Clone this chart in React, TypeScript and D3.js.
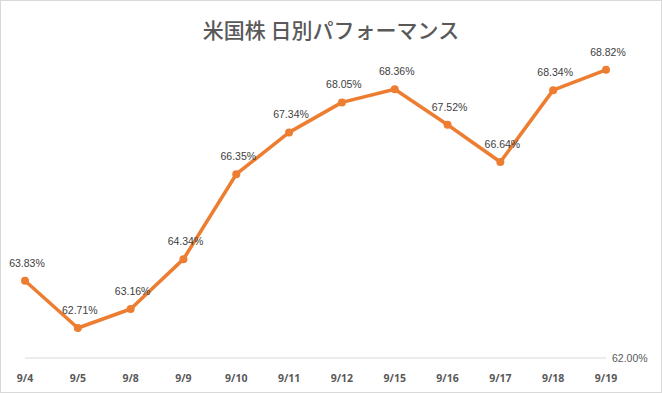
import * as d3 from "d3";
import { useEffect, useRef } from "react";

const dates = ["9/4", "9/5", "9/8", "9/9", "9/10", "9/11", "9/12", "9/15", "9/16", "9/17", "9/18", "9/19"];
const perf = [63.83, 62.71, 63.16, 64.34, 66.35, 67.34, 68.05, 68.36, 67.52, 66.64, 68.34, 68.82];
const yMin = 62;
const yMax = 70;

export default function App() {
  const ref = useRef<SVGSVGElement>(null);

  useEffect(() => {
    const width = 662;
    const height = 393;

    const svg = d3.select(ref.current);
    svg.selectAll("*").remove();
    svg.attr("width", width).attr("height", height);

    svg.append("rect")
      .attr("x", 0.5).attr("y", 0.5)
      .attr("width", width - 1).attr("height", height - 1)
      .attr("fill", "#fff")
      .attr("stroke", "#d9d9d9");

    svg.append("text")
      .attr("x", 331).attr("y", 38)
      .attr("text-anchor", "middle")
      .attr("font-family", "'Noto Sans CJK JP', sans-serif")
      .attr("font-weight", 500)
      .attr("font-size", 21)
      .attr("fill", "#595959")
      .text("米国株 日別パフォーマンス");

    const x = d3.scalePoint<string>()
      .domain(dates)
      .range([25, 606]);

    const y = d3.scaleLinear()
      .domain([yMin, yMax])
      .range([358, 20]);

    // baseline
    svg.append("line")
      .attr("x1", x(dates[0])!).attr("x2", x(dates[dates.length - 1])!)
      .attr("y1", y(yMin)).attr("y2", y(yMin))
      .attr("stroke", "#d9d9d9");

    svg.append("text")
      .attr("x", 612).attr("y", y(yMin) + 4)
      .attr("font-family", "'Liberation Sans', Arial, sans-serif")
      .attr("font-size", 10.5)
      .attr("fill", "#595959")
      .text(yMin.toFixed(2) + "%");

    svg.append("g")
      .selectAll("text")
      .data(dates)
      .enter()
      .append("text")
      .attr("x", d => x(d)!)
      .attr("y", 382)
      .attr("text-anchor", "middle")
      .attr("font-family", "'Open Sans', sans-serif")
      .attr("font-weight", "bold")
      .attr("font-size", 10.5)
      .attr("fill", "#595959")
      .text(d => d);

    const line = d3.line<number>()
      .x((_, i) => x(dates[i])!)
      .y(d => y(d));

    svg.append("path")
      .datum(perf)
      .attr("d", line)
      .attr("fill", "none")
      .attr("stroke", "#ED7D31")
      .attr("stroke-width", 3.5)
      .attr("stroke-linejoin", "round");

    svg.append("g")
      .selectAll("circle")
      .data(perf)
      .enter()
      .append("circle")
      .attr("cx", (_, i) => x(dates[i])!)
      .attr("cy", d => y(d))
      .attr("r", 4)
      .attr("fill", "#ED7D31");

    svg.append("g")
      .selectAll("text")
      .data(perf)
      .enter()
      .append("text")
      .attr("x", (_, i) => x(dates[i])! + 2)
      .attr("y", d => y(d) - 14)
      .attr("text-anchor", "middle")
      .attr("font-family", "'Liberation Sans', Arial, sans-serif")
      .attr("font-size", 10.5)
      .attr("fill", "#404040")
      .text(d => d.toFixed(2) + "%");
  }, []);

  return (
    <svg ref={ref} style={{ position: "absolute", left: 0, top: 0, display: "block" }} />
  );
}
